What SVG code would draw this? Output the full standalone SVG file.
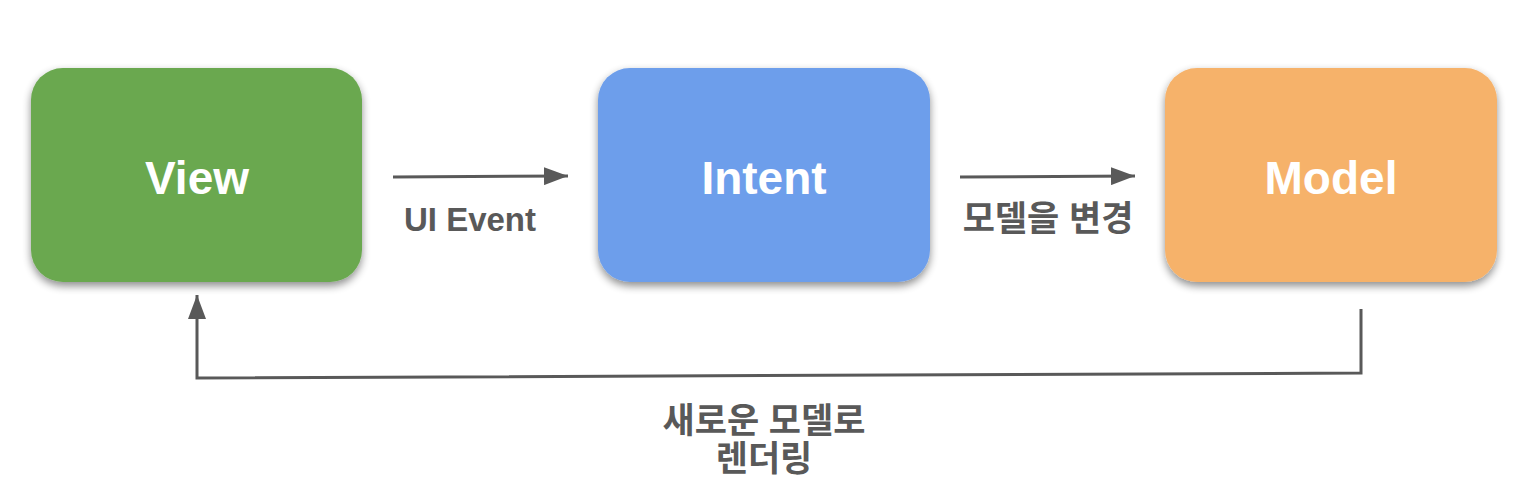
<svg xmlns="http://www.w3.org/2000/svg" width="1535" height="494" viewBox="0 0 1535 494">
<style>
.box{stroke:none;filter:url(#sh)}
.t{font-family:"Liberation Sans","Noto Sans CJK KR",sans-serif;font-weight:bold;text-anchor:middle}
.nt{fill:#ffffff;font-size:46px}
.lt{fill:#595959;font-size:33px}
.kt{fill:#595959;font-size:35px}
.c{stroke:#595959;stroke-width:3;fill:none}
</style>
<defs>
<filter id="sh" x="-10%" y="-10%" width="120%" height="130%">
<feGaussianBlur in="SourceAlpha" stdDeviation="4"/>
<feOffset dx="0" dy="4"/>
<feComponentTransfer><feFuncA type="linear" slope="0.45"/></feComponentTransfer>
<feMerge><feMergeNode/><feMergeNode in="SourceGraphic"/></feMerge>
</filter>
<marker id="ah2" viewBox="0 0 24 18" refX="24" refY="9" markerWidth="24" markerHeight="18" orient="auto" markerUnits="userSpaceOnUse">
<path d="M0,0 L24,9 L0,18 Z" fill="#595959"/>
</marker>
</defs>
<rect width="1535" height="494" fill="#ffffff"/>
<g id="view">
<rect class="box" x="31" y="68" width="331" height="214" rx="32" fill="#6aa84f"/>
<text class="t nt" x="197" y="194">View</text>
</g>
<g id="intent">
<rect class="box" x="598" y="68" width="332" height="214" rx="32" fill="#6d9eeb"/>
<text class="t nt" x="764" y="194">Intent</text>
</g>
<g id="model">
<rect class="box" x="1165" y="68" width="332" height="214" rx="32" fill="#f6b26b"/>
<text class="t nt" x="1331" y="194">Model</text>
</g>
<g id="connectors">
<line class="c" x1="393" y1="177" x2="568" y2="176" marker-end="url(#ah2)"/>
<line class="c" x1="960" y1="177" x2="1135" y2="176" marker-end="url(#ah2)"/>
<polyline class="c" points="1361,309 1361,373 197,378 197,295" marker-end="url(#ah2)"/>
</g>
<g id="labels">
<text class="t lt" x="470" y="231">UI Event</text>
<text class="t kt" x="1048" y="231">모델을 변경</text>
<text class="t kt" x="764" y="433">새로운 모델로</text>
<text class="t kt" x="764" y="471">렌더링</text>
</g>
</svg>
